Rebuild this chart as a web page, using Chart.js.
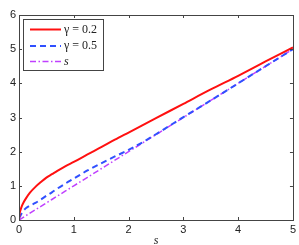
<!DOCTYPE html>
<html><head><meta charset="utf-8">
<script src="https://cdn.jsdelivr.net/npm/chart.js@4/dist/chart.umd.min.js"></script>
<style>html,body{margin:0;padding:0;background:#fff}</style>
</head><body><canvas id="c" width="299" height="245" style="width:299px;height:245px;display:block"></canvas>
<script>
const sValues = [0,0.01,0.025,0.05,0.085,0.13,0.2,0.3,0.4,0.5,0.6,0.7,0.85,1.0,1.25,1.5,1.75,2.0,2.25,2.5,3.0,3.5,4.0,4.5,5.0];
const gamma02 = [0,0.18,0.28,0.40,0.52,0.64,0.80,0.97,1.11,1.24,1.34,1.44,1.58,1.70,1.92,2.13,2.35,2.56,2.77,2.98,3.40,3.82,4.22,4.64,5.05];
const gamma05 = [0.05,0.08,0.12,0.20,0.28,0.35,0.42,0.50,0.60,0.71,0.81,0.92,1.07,1.21,1.45,1.66,1.86,2.05,2.27,2.51,3.01,3.50,4.00,4.50,5.00];
const sLine = [0,0.01,0.025,0.05,0.085,0.13,0.2,0.3,0.4,0.5,0.6,0.7,0.85,1.0,1.25,1.5,1.75,2.0,2.25,2.5,3.0,3.5,4.0,4.5,5.0];
const seriesLabels = ['\u03b3 = 0.2','\u03b3 = 0.5','s'];
const xTicks = [0,1,2,3,4,5];
const yTicks = [0,1,2,3,4,5,6];

const pts = (ys)=> sValues.map((x,i)=>({x:x,y:ys[i]}));
const AX = '#444';

const boxPlugin = {
  id:'box',
  afterDatasetsDraw(chart){
    const {ctx, chartArea:a, scales:{x,y}} = chart;
    ctx.save();
    ctx.strokeStyle = AX; ctx.lineWidth = 1;
    ctx.strokeRect(Math.round(a.left)+0.5, Math.round(a.top)+0.5, Math.round(a.right-a.left), Math.round(a.bottom-a.top));
    ctx.beginPath();
    const L=3;
    xTicks.forEach(v=>{const px=Math.round(x.getPixelForValue(v))+0.5;
      ctx.moveTo(px,a.bottom); ctx.lineTo(px,a.bottom-L);
      ctx.moveTo(px,a.top); ctx.lineTo(px,a.top+L);});
    yTicks.forEach(v=>{const py=Math.round(y.getPixelForValue(v))+0.5;
      ctx.moveTo(a.left,py); ctx.lineTo(a.left+L,py);
      ctx.moveTo(a.right,py); ctx.lineTo(a.right-L,py);});
    ctx.stroke();
    // legend
    const bx=23.5, by=19.5, bw=80, bh=51;
    ctx.fillStyle='#fff'; ctx.fillRect(bx,by,bw,bh);
    ctx.strokeStyle=AX; ctx.strokeRect(bx,by,bw,bh);
    const rows=[29.5,46,61.5];
    chart.data.datasets.forEach((ds,i)=>{
      ctx.beginPath();
      ctx.strokeStyle=ds.borderColor; ctx.lineWidth=ds.borderWidth;
      ctx.setLineDash(ds.borderDash||[]);
      ctx.moveTo(30,rows[i]); ctx.lineTo(61,rows[i]); ctx.stroke();
      ctx.setLineDash([]);
      ctx.fillStyle='#222';
      ctx.font = (i===2?'italic ':'')+'12px "Liberation Serif", serif';
      ctx.textBaseline='middle'; ctx.textAlign='left';
      ctx.fillText(ds.label,64,rows[i]);
    });
    ctx.restore();
  }
};

new Chart(document.getElementById('c'),{
  type:'line',
  data:{datasets:[
    {label:seriesLabels[0],data:pts(gamma02),borderColor:'#ff1010',borderWidth:2,pointRadius:0,cubicInterpolationMode:'monotone',fill:false},
    {label:seriesLabels[1],data:pts(gamma05),borderColor:'#3050ff',borderWidth:2,borderDash:[6,4],pointRadius:0,cubicInterpolationMode:'monotone',fill:false},
    {label:seriesLabels[2],data:sLine.map((x)=>({x:x,y:x})),borderColor:'#c040ff',borderWidth:1.5,borderDash:[6,2.5,1.5,2.5],pointRadius:0,tension:0,fill:false}
  ]},
  options:{
    responsive:false, animation:false, maintainAspectRatio:false, devicePixelRatio:1,
    layout:{padding:{top:15,right:6,left:0,bottom:0}},
    plugins:{legend:{display:false},tooltip:{enabled:false}},
    scales:{
      x:{type:'linear',min:0,max:5,
        afterFit(s){s.height=25;},
        afterBuildTicks(s){s.ticks=xTicks.map(v=>({value:v}));},
        grid:{display:false,drawTicks:false},border:{display:false},
        ticks:{padding:3,color:'#222',font:{family:'Liberation Sans, Arial',size:11},maxRotation:0},
        title:{display:true,text:'s',color:'#222',font:{family:'Liberation Serif',style:'italic',size:12},padding:{top:0,bottom:-3}}},
      y:{type:'linear',min:0,max:6,
        afterFit(s){s.width=19;},
        afterBuildTicks(s){s.ticks=yTicks.map(v=>({value:v}));},
        grid:{display:false,drawTicks:false},border:{display:false},
        ticks:{padding:3,color:'#222',font:{family:'Liberation Sans, Arial',size:11}}}
    }
  },
  plugins:[boxPlugin]
});
</script></body></html>
